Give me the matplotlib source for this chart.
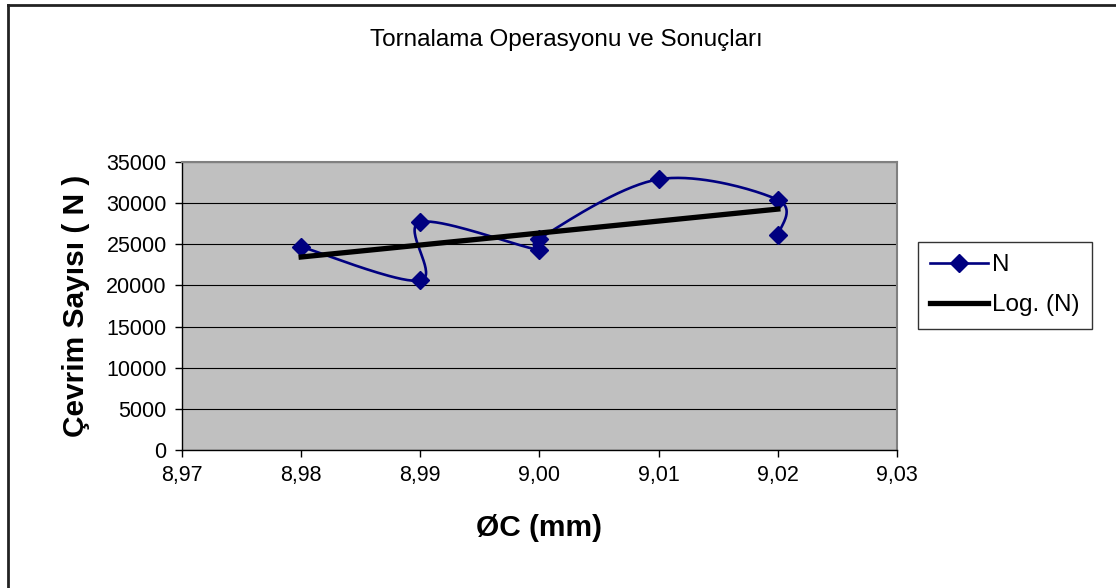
import numpy as np
import matplotlib
matplotlib.use('Agg')
import matplotlib.pyplot as plt
from matplotlib.lines import Line2D
import matplotlib.ticker as mt

plt.rcParams['font.family'] = ['Liberation Sans', 'DejaVu Sans']

# veriler (okuma sirasi = cizim sirasi)
cap = [8.98, 8.99, 8.99, 9.00, 9.00, 9.01, 9.02, 9.02]
N = [24700, 20600, 27700, 24300, 25700, 32900, 30400, 26100]

xticks = [8.97, 8.98, 8.99, 9.00, 9.01, 9.02, 9.03]
yticks = [0, 5000, 10000, 15000, 20000, 25000, 30000, 35000]

fig = plt.figure(figsize=(11.16, 5.88), dpi=100)
ax = fig.add_axes([182/1116, 1-450/588, (897-182)/1116, (450-162)/588])
ax.set_facecolor('#C0C0C0')
ax.set_xlim(8.97, 9.03)
ax.set_ylim(0, 35000)
ax.set_xticks(xticks)
ax.set_yticks(yticks)
ax.xaxis.set_major_formatter(mt.FuncFormatter(lambda v, p: ('%.2f' % v).replace('.', ',')))
ax.yaxis.set_major_formatter(mt.FuncFormatter(lambda v, p: '%d' % v))
ax.tick_params(direction='out', length=5, width=1, color='black', labelsize=15.5, pad=6)
ax.grid(axis='y', color='black', linewidth=0.8)
ax.set_axisbelow(True)
for s in ['top', 'right']:
    ax.spines[s].set_color('#808080')
    ax.spines[s].set_linewidth(1.5)
for s in ['left', 'bottom']:
    ax.spines[s].set_color('black')
    ax.spines[s].set_linewidth(1)

# Excel tarzi yumusatilmis egri (piksel uzayinda Catmull-Rom / Bezier)
pts = ax.transData.transform(np.column_stack([cap, N]))
n = len(pts)
t = np.linspace(0, 1, 40)[:, None]
seg = []
for i in range(n - 1):
    p0 = pts[max(i - 1, 0)]
    p1 = pts[i]
    p2 = pts[i + 1]
    p3 = pts[min(i + 2, n - 1)]
    c1 = p1 + (p2 - p0) / 6.0
    c2 = p2 - (p3 - p1) / 6.0
    b = (1-t)**3*p1 + 3*(1-t)**2*t*c1 + 3*(1-t)*t**2*c2 + t**3*p2
    seg.append(b)
seg = np.vstack(seg)
dat = ax.transData.inverted().transform(seg)
ax.plot(dat[:, 0], dat[:, 1], color='#000080', linewidth=1.9, zorder=3)
ax.plot(cap, N, linestyle='none', marker='D', markersize=9.5, color='#000080', zorder=4)

# logaritmik egilim cizgisi
b, a = np.polyfit(np.log(cap), N, 1)
xl = np.array([min(cap), max(cap)])
ax.plot(xl, a + b*np.log(xl), color='black', linewidth=3.8, zorder=5)

fig.text(566/1116, 1-40/588, 'Tornalama Operasyonu ve Sonuçları', ha='center', va='center', fontsize=17.5)
ax.set_xlabel('ØC (mm)', fontsize=21.5, fontweight='bold', labelpad=20)
ax.set_ylabel('Çevrim Sayısı ( N )', fontsize=21.5, fontweight='bold', labelpad=12)

h1 = Line2D([], [], color='#000080', linewidth=1.9, marker='D', markersize=9.5)
h2 = Line2D([], [], color='black', linewidth=3.8)
leg = fig.legend([h1, h2], ['N', 'Log. (N)'], loc='upper left',
                 bbox_to_anchor=(918/1116, 1-242/588), fontsize=17.5,
                 frameon=True, fancybox=False, edgecolor='black',
                 handlelength=2.4, handletextpad=0.15, borderpad=0.5,
                 labelspacing=0.75, borderaxespad=0)
leg.get_frame().set_linewidth(1)

fig.add_artist(Line2D([8/1116, 8/1116], [0, 1-5/588], color='#222222', linewidth=2, transform=fig.transFigure))
fig.add_artist(Line2D([8/1116, 1], [1-5/588, 1-5/588], color='#222222', linewidth=2, transform=fig.transFigure))

fig.savefig('out.png', dpi=100)
